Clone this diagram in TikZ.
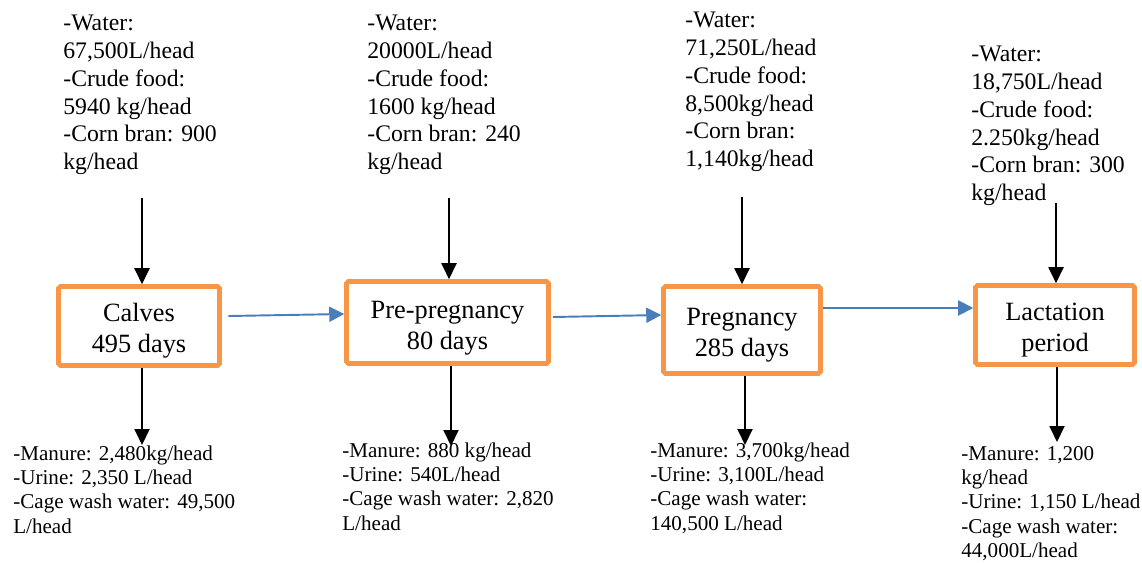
\documentclass[tikz,border=0pt]{standalone}
\usepackage{fontspec}
\setmainfont{Liberation Serif}
\usetikzlibrary{arrows.meta}
\definecolor{stageorange}{HTML}{F79646}
\definecolor{flowblue}{HTML}{4A7EBB}
\newcommand{\stagelift}{\rule{0pt}{16pt}}

\begin{document}
\begin{tikzpicture}[x=0.02cm,y=-0.02cm,
  stage/.style={draw=stageorange,line width=2.6pt,rounded corners=1pt,align=center,
    inner sep=0pt,font=\fontsize{15}{17.6}\selectfont},
  inputs/.style={anchor=north west,align=left,inner sep=0pt,font=\fontsize{13.5}{15.8}\selectfont},
  outputs/.style={anchor=north west,align=left,inner sep=0pt,font=\fontsize{12}{13.8}\selectfont},
  feed/.style={-{Triangle[length=0.32cm,width=0.3cm]},line width=1.1pt},
  stageflow/.style={-{Triangle[length=0.3cm,width=0.3cm]},flowblue,line width=1.1pt}]
\useasboundingbox (0,0) rectangle (1142,562);

% The boxes
\node (calves) at (139,326) [stage,minimum width=3.22cm,minimum height=1.58cm] {\stagelift Calves\\495 days};
\node (prepreg) at (447.5,322.5) [stage,minimum width=4.04cm,minimum height=1.64cm] {\stagelift Pre-pregnancy\\80 days};
\node (preg) at (742,330) [stage,minimum width=3.14cm,minimum height=1.74cm] {\stagelift Pregnancy\\285 days};
\node (lact) at (1055,325) [stage,minimum width=3.18cm,minimum height=1.58cm] {\stagelift Lactation\\period};

% What goes in
\node (calvesin) at (63,15) [inputs] {-Water:\\67,500L/head\\-Crude food:\\5940 kg/head\\-Corn bran: 900\\kg/head};
\node (prepregin) at (367,15) [inputs] {-Water:\\20000L/head\\-Crude food:\\1600 kg/head\\-Corn bran: 240\\kg/head};
\node (pregin) at (685,12) [inputs] {-Water:\\71,250L/head\\-Crude food:\\8,500kg/head\\-Corn bran:\\1,140kg/head};
\node (lactin) at (971,46) [inputs] {-Water:\\18,750L/head\\-Crude food:\\2.250kg/head\\-Corn bran: 300\\kg/head};

% What comes out
\node (calvesout) at (13,445.5) [outputs] {-Manure: 2,480kg/head\\-Urine: 2,350 L/head\\-Cage wash water: 49,500\\L/head};
\node (prepregout) at (342,442.5) [outputs] {-Manure: 880 kg/head\\-Urine: 540L/head\\-Cage wash water: 2,820\\L/head};
\node (pregout) at (650,442.5) [outputs] {-Manure: 3,700kg/head\\-Urine: 3,100L/head\\-Cage wash water:\\140,500 L/head};
\node (lactout) at (961,446) [outputs] {-Manure: 1,200\\kg/head\\-Urine: 1,150 L/head\\-Cage wash water:\\44,000L/head};

% feed arrows
\coordinate (calvesfeed) at (142,198);
\coordinate (prepregfeed) at (449,198);
\coordinate (pregfeed) at (742,197);
\coordinate (lactfeed) at (1056,203);
\draw[feed] (calvesfeed) -- (calvesfeed |- calves.north);
\draw[feed] (prepregfeed) -- (prepregfeed |- prepreg.north);
\draw[feed] (pregfeed) -- (pregfeed |- preg.north);
\draw[feed] (lactfeed) -- (lactfeed |- lact.north);

% waste arrows
\coordinate (calveswaste) at (142,445);
\coordinate (prepregwaste) at (451,446);
\coordinate (pregwaste) at (745,445);
\coordinate (lactwaste) at (1057,442);
\draw[feed] (calveswaste |- calves.south) -- (calveswaste);
\draw[feed] (prepregwaste |- prepreg.south) -- (prepregwaste);
\draw[feed] (pregwaste |- preg.south) -- (pregwaste);
\draw[feed] (lactwaste |- lact.south) -- (lactwaste);

% stage to stage
\path (calves.east) ++(6.5,-10) coordinate(calvesnext);
\path (prepreg.west) ++(0,-8.5) coordinate(prepregstart);
\draw[stageflow] (calvesnext) -- (prepregstart);
\path (prepreg.east) ++(2,-5.5) coordinate(prepregnext);
\path (preg.west) ++(0,-15) coordinate(pregstart);
\draw[stageflow] (prepregnext) -- (pregstart);
\path (preg.east) ++(0,-22) coordinate(pregnext);
\path (lact.west) ++(0,-17) coordinate(lactstart);
\draw[stageflow] (pregnext) -- (lactstart);

\end{tikzpicture}
\end{document}
